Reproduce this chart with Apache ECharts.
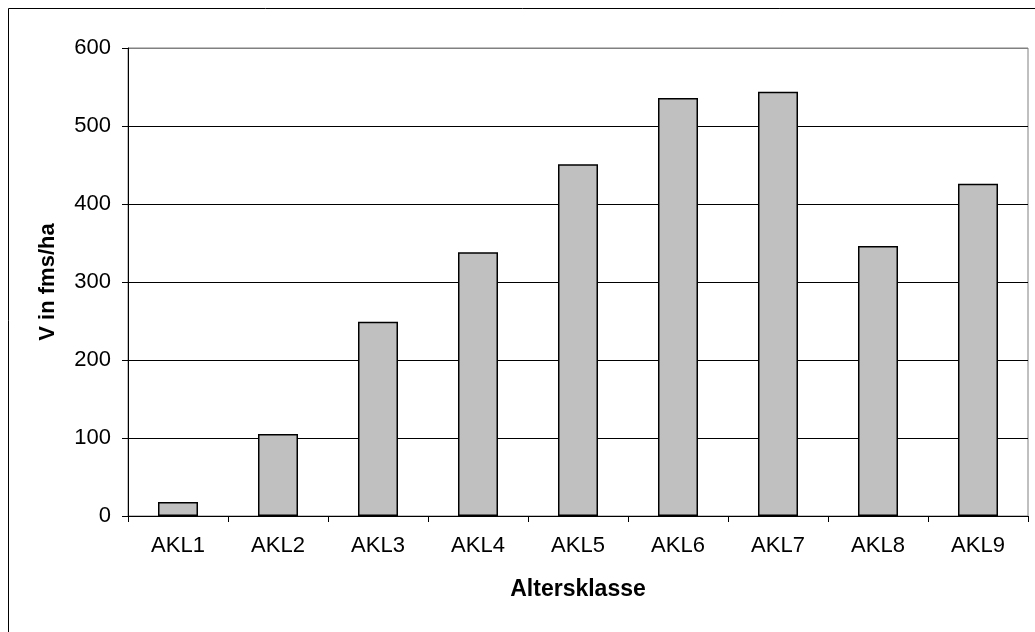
<!DOCTYPE html>
<html>
<head>
<meta charset="utf-8">
<script src="https://cdn.jsdelivr.net/npm/echarts@6/dist/echarts.min.js"></script>
<style>
  html, body { margin: 0; padding: 0; background: #fff; }
  #chart { width: 1035px; height: 632px; }
</style>
</head>
<body>
<div id="chart"></div>
<script>
// Volume per hectare by age class
const categories = ['AKL1', 'AKL2', 'AKL3', 'AKL4', 'AKL5', 'AKL6', 'AKL7', 'AKL8', 'AKL9'];
const volumes = [18, 105, 249, 338, 451, 536, 544, 346, 426];
const yTicks = { min: 0, max: 600, interval: 100 };

const font = 'Liberation Sans, Arial, sans-serif';
const chart = echarts.init(document.getElementById('chart'), null, { renderer: 'canvas' });

chart.setOption({
  backgroundColor: '#ffffff',
  animation: false,
  graphic: [{
    type: 'rect',
    shape: { x: 8.5, y: 8.5, width: 1040, height: 640 },
    style: { fill: 'none', stroke: '#000', lineWidth: 1 },
    z: 100
  }],
  grid: {
    left: 128, top: 48, right: 7, bottom: 116,
    show: true, borderColor: '#808080', borderWidth: 1,
    backgroundColor: 'transparent'
  },
  xAxis: {
    type: 'category',
    data: categories,
    boundaryGap: true,
    name: 'Altersklasse',
    nameLocation: 'middle',
    nameGap: 62,
    nameTextStyle: { fontFamily: font, fontSize: 23, fontWeight: 'bold', color: '#000' },
    axisLine: { lineStyle: { color: '#000', width: 1 } },
    axisTick: { show: true, length: 6, lineStyle: { color: '#000' } },
    axisLabel: { fontFamily: font, fontSize: 22, color: '#000', margin: 19 },
    splitLine: { show: false }
  },
  yAxis: {
    type: 'value',
    min: yTicks.min, max: yTicks.max, interval: yTicks.interval,
    name: 'V in fms/ha',
    nameLocation: 'middle',
    nameRotate: 90,
    nameGap: 69,
    nameTextStyle: { fontFamily: font, fontSize: 22, fontWeight: 'bold', color: '#000' },
    axisLine: { show: true, lineStyle: { color: '#000', width: 1 } },
    axisTick: { show: true, length: 6, lineStyle: { color: '#000' } },
    axisLabel: { fontFamily: font, fontSize: 22, color: '#000', margin: 17 },
    splitLine: {
      show: true,
      lineStyle: { color: ['#000', '#000', '#000', '#000', '#000', '#000', '#808080'], width: 1 }
    }
  },
  series: [{
    type: 'bar',
    data: volumes,
    barWidth: '40%',
    itemStyle: { color: '#c0c0c0', borderColor: '#000', borderWidth: 1.5 }
  }]
});
</script>
</body>
</html>
